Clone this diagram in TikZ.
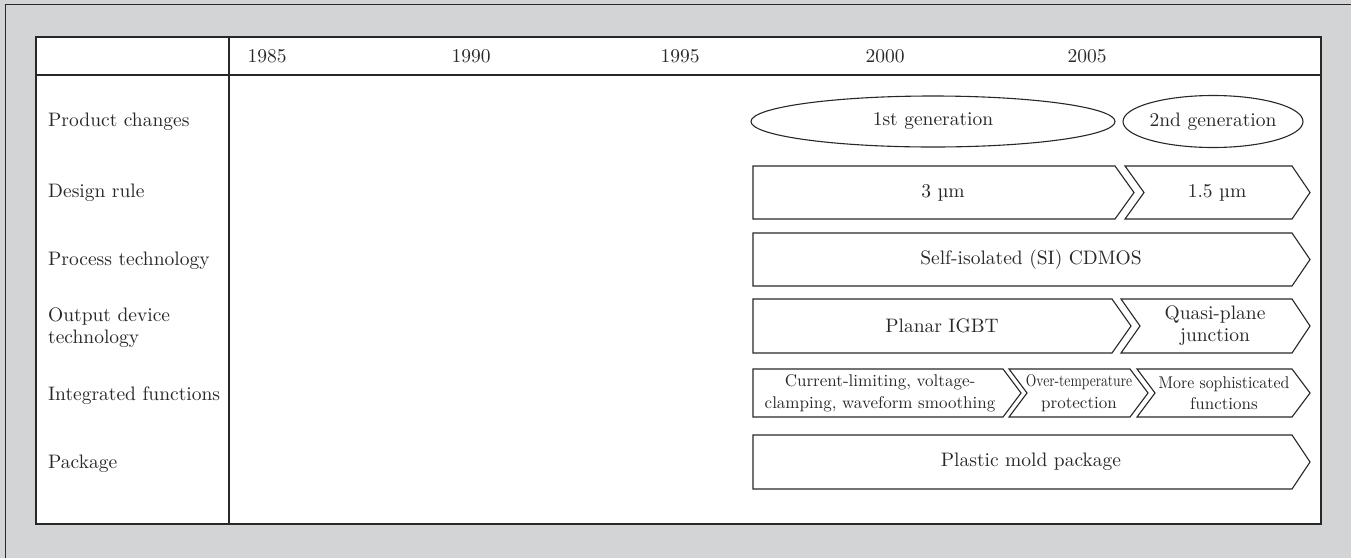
\documentclass[tikz,border=0pt]{standalone}
\usepackage{fontspec}
\setmainfont{lmroman10-regular}[Extension=.otf]
\usetikzlibrary{shapes.geometric}
\definecolor{pagegray}{RGB}{211,212,214}
\definecolor{ink}{RGB}{40,40,40}
\newcommand{\mainsize}{\fontsize{19.5}{22}\selectfont}
\newcommand{\smallsize}{\fontsize{17}{21.5}\selectfont}
% chevron: left, flat right, top, bottom, tip depth, notch depth (0 = straight left side)
\newcommand{\chevronbox}[6]{%
  \draw[chevron] (#1,#3) -- (#2,#3) -- ({#2+#5},{(#3+#4)/2}) -- (#2,#4)
    -- (#1,#4) -- ({#1+#6},{(#3+#4)/2}) -- cycle;}
\begin{document}
\begin{tikzpicture}[x=1pt,y=-1pt,
  rule/.style={draw=ink,line width=1.3pt},
  chevron/.style={draw=ink,line width=1.1pt,fill=white,line join=miter},
  generation/.style={ellipse,draw=ink,line width=1.1pt,inner sep=0,font=\mainsize,text=ink},
  rowlabel/.style={anchor=west,align=left,font=\mainsize,inner sep=0,text=ink},
  year/.style={font=\mainsize,inner sep=0,text=ink},
  boxtext/.style={align=center,font=\mainsize,inner sep=0,text=ink},
  smalltext/.style={align=center,font=\smallsize,inner sep=0,text=ink}]

\useasboundingbox (0,0) rectangle (1351,558);
\fill[pagegray] (0,0) rectangle (1351,558);
\draw[ink,line width=1pt] (5,558) -- (5,4) -- (1351,4);

% table frame
\fill[white] (36,37) rectangle (1321,524);
\draw[rule] (36,37) rectangle (1321,524);
\draw[rule] (229,37) -- (229,524);
\draw[ink,line width=2.6pt] (36,75) -- (1321,75);

% years
\node[year] (y1985) at (267,56) {1985};
\node[year] (y1990) at (471,56) {1990};
\node[year] (y1995) at (680,56) {1995};
\node[year] (y2000) at (885,56) {2000};
\node[year] (y2005) at (1087,56) {2005};

% row labels
\node[rowlabel] (lprod) at (48,122) {Product changes};
\node[rowlabel] (ldes) at (48,193) {Design rule};
\node[rowlabel] (lproc) at (48,261) {Process technology};
\node[rowlabel] (lout) at (48,328) {Output device\\technology};
\node[rowlabel] (lint) at (48,396) {Integrated functions};
\node[rowlabel] (lpkg) at (48,464) {Package};

% product generations
\node[generation,minimum width=364,minimum height=51] (g1) at (933,121.5) {1st generation};
\node[generation,minimum width=180,minimum height=52] (g2) at (1213,121.5) {2nd generation};

% design rule
\chevronbox{753}{1115}{166}{219}{19}{0}
\chevronbox{1125}{1292}{166}{219}{18}{19}
\node[boxtext] (dr1) at (943,192.5) {3 µm};
\node[boxtext] (dr2) at (1217,192.5) {1.5 µm};

% process technology
\chevronbox{753}{1292}{233}{286}{18}{0}
\node[boxtext] (pt) at (1031,259.5) {Self-isolated (SI) CDMOS};

% output device technology
\chevronbox{753}{1112}{299}{353}{19}{0}
\chevronbox{1121}{1292}{299}{353}{18}{19}
\node[boxtext] (od1) at (942,326) {Planar IGBT};
\node[boxtext] (od2) at (1215,326) {Quasi-plane\\junction};

% integrated functions
\chevronbox{753}{1003}{369}{417}{18}{0}
\chevronbox{1009}{1130}{369}{417}{18}{18}
\chevronbox{1137}{1292}{369}{417}{18}{18}
\node[smalltext] (if1) at (880,393) {Current-limiting, voltage-\\clamping, waveform smoothing};
\node[smalltext] (if2) at (1079,393) {\scalebox{0.8}[1]{Over-temperature}\\protection};
\node[smalltext] (if3) at (1224,393) {\scalebox{0.93}[1]{More sophisticated}\\functions};

% package
\chevronbox{753}{1292}{435}{489}{18}{0}
\node[boxtext] (pk) at (1031,462) {Plastic mold package};
\end{tikzpicture}
\end{document}
